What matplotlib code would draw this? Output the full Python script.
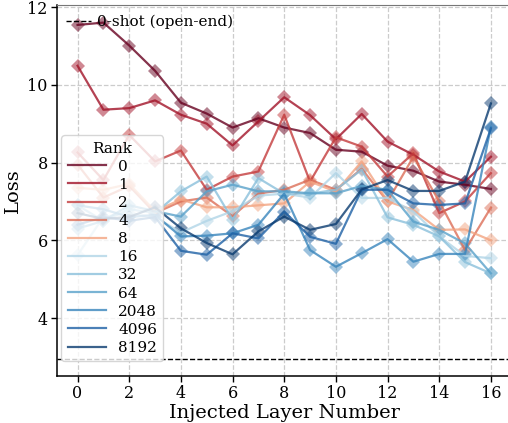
import numpy as np
import matplotlib
matplotlib.use("Agg")
from matplotlib import pyplot as plt

plt.rcParams['font.family'] = ['DejaVu Serif']

layers = list(range(17))
ranks = ['0', '1', '2', '4', '8', '16', '32', '64', '2048', '4096', '8192']
zero_shot = 2.95

loss_r0 = [11.54, 11.60, 11.01, 10.36, 9.54, 9.26, 8.90, 9.14, 8.90, 8.76, 8.33, 8.28, 7.92, 7.79, 7.51, 7.43, 7.32]
loss_r1 = [10.49, 9.36, 9.40, 9.60, 9.23, 9.00, 8.44, 9.06, 9.68, 9.22, 8.60, 9.25, 8.54, 8.20, 7.77, 7.51, 8.15]
loss_r2 = [8.26, 7.55, 8.71, 8.03, 8.31, 7.30, 7.64, 7.77, 9.23, 7.51, 8.65, 8.41, 7.64, 8.24, 6.70, 7.00, 7.73]
loss_r4 = [7.95, 7.10, 7.40, 6.70, 7.00, 7.10, 6.62, 7.20, 7.30, 7.56, 7.30, 7.84, 7.00, 8.15, 7.00, 5.75, 6.84]
loss_r8 = [7.35, 7.30, 7.45, 6.75, 7.05, 6.85, 6.85, 6.90, 6.95, 7.51, 7.25, 8.03, 7.00, 6.78, 6.27, 6.28, 6.00]
loss_r16 = [5.62, 6.60, 6.70, 6.60, 6.20, 6.50, 6.75, 7.15, 7.20, 7.10, 7.73, 7.09, 7.09, 6.74, 6.10, 5.60, 5.54]
loss_r32 = [6.90, 6.50, 6.80, 6.70, 7.26, 7.64, 6.53, 7.60, 7.20, 7.20, 7.30, 7.82, 6.59, 6.40, 6.10, 5.44, 5.15]
loss_r64 = [6.30, 6.50, 6.90, 6.75, 6.61, 7.26, 7.43, 7.26, 7.26, 7.21, 7.21, 7.40, 7.30, 6.48, 6.27, 5.92, 5.15]
loss_r2048 = [6.90, 6.80, 6.60, 6.65, 6.10, 6.12, 6.18, 6.40, 7.20, 5.75, 5.32, 5.67, 6.03, 5.45, 5.65, 5.65, 8.92]
loss_r4096 = [6.40, 6.60, 6.50, 6.60, 5.73, 5.63, 6.18, 6.05, 6.74, 6.09, 5.91, 7.30, 7.30, 6.95, 6.91, 6.95, 8.88]
loss_r8192 = [6.70, 6.55, 6.60, 6.85, 6.31, 5.93, 5.64, 6.23, 6.61, 6.27, 6.42, 7.31, 7.55, 7.27, 7.27, 7.51, 9.52]

all_loss = [loss_r0, loss_r1, loss_r2, loss_r4, loss_r8, loss_r16,
            loss_r32, loss_r64, loss_r2048, loss_r4096, loss_r8192]
cmap_pos = [0.0, 0.08, 0.15, 0.22, 0.30, 0.65, 0.71, 0.77, 0.83, 0.91, 0.98]

fig = plt.figure(figsize=(5.08, 4.23), dpi=100)
ax = fig.add_axes([0.112, 0.112, 0.895, 0.875])

handles = []
for rank, loss, pos in zip(ranks, all_loss, cmap_pos):
    color = plt.cm.RdBu(pos)
    ax.plot(layers, loss, color=color, alpha=0.5, marker='D', markersize=7.5,
            linestyle='none', markeredgewidth=0, zorder=2)
    h, = ax.plot(layers, loss, color=color, alpha=0.8, lw=1.6, zorder=3, label=rank)
    handles.append(h)

zs = ax.axhline(zero_shot, color='black', linestyle='--', lw=1.0)

ax.set_xlim(-0.8, 16.8)
ax.set_ylim(2.52, 12.04)
ax.set_xticks(range(0, 17, 2))
ax.set_yticks([4, 6, 8, 10, 12])
ax.grid(True, linestyle='--', color='#cccccc', lw=0.9)
ax.set_axisbelow(True)
ax.tick_params(labelsize=11.5, direction='out', length=4, width=1, pad=2.5)
for s in ['left', 'bottom']:
    ax.spines[s].set_color('black')
    ax.spines[s].set_linewidth(1.1)
ax.spines['top'].set_color('#777777')
ax.spines['right'].set_visible(False)

ax.set_xlabel('Injected Layer Number', fontsize=14, labelpad=2)
ax.set_ylabel('Loss', fontsize=14, labelpad=4)

leg1 = ax.legend(handles=handles, title='Rank', loc='lower left',
                 bbox_to_anchor=(0.0, 0.027), fontsize=11, title_fontsize=11,
                 framealpha=0.8, handlelength=2.5, labelspacing=0.27,
                 borderaxespad=0.3)
ax.add_artist(leg1)
ax.legend(handles=[zs], labels=['0-shot (open-end)'], loc='upper left',
          frameon=False, fontsize=11, handlelength=1.6, handletextpad=0.4,
          borderaxespad=0.2)

fig.savefig('out.png', dpi=100)
